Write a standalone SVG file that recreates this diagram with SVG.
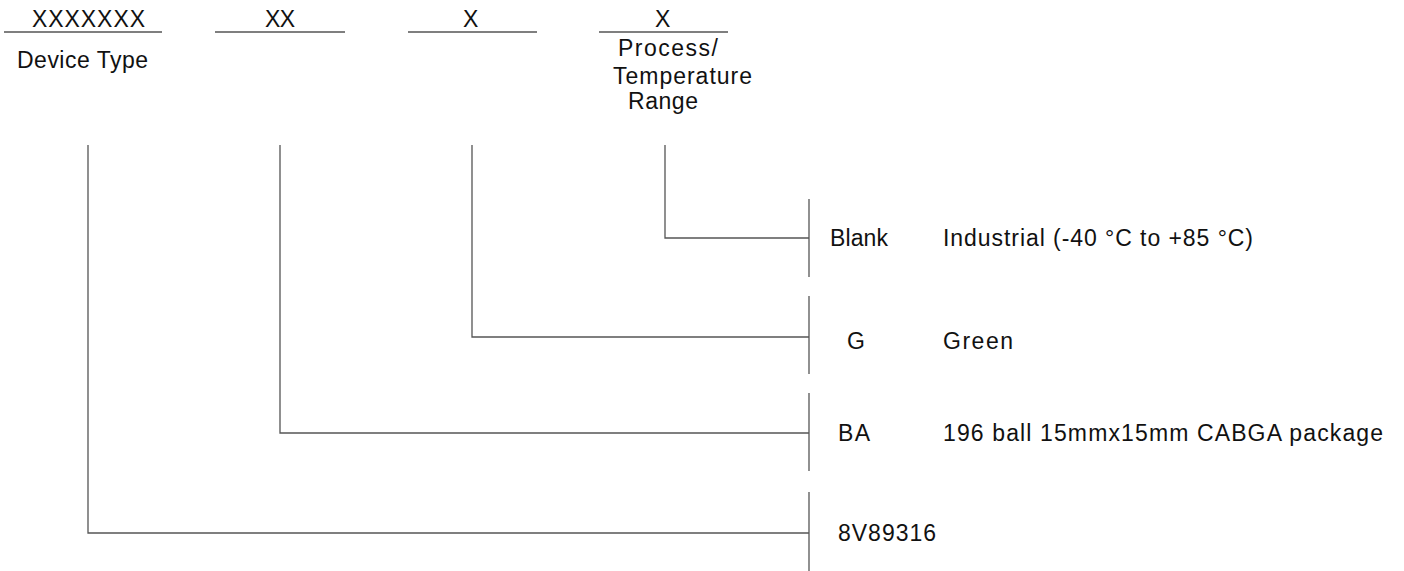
<svg xmlns="http://www.w3.org/2000/svg" width="1404" height="571" viewBox="0 0 1404 571">
<style>
text{font-family:"Liberation Sans",Arial,sans-serif;font-size:23px;fill:#111}
.ln{stroke:#555;stroke-width:1.3;fill:none}
</style>
<rect width="1404" height="571" fill="#fff"/>
<g id="field-device">
<text x="32" y="27" textLength="113">XXXXXXX</text>
<line class="ln" x1="4" y1="32" x2="162" y2="32"/>
<text x="17" y="68" textLength="131">Device Type</text>
</g>
<g id="field-package">
<text x="265" y="27" textLength="30">XX</text>
<line class="ln" x1="215" y1="32" x2="345" y2="32"/>
</g>
<g id="field-green">
<text x="463" y="27">X</text>
<line class="ln" x1="408" y1="32" x2="537" y2="32"/>
</g>
<g id="field-temp">
<text x="655" y="27">X</text>
<line class="ln" x1="599" y1="32" x2="728" y2="32"/>
<text x="618" y="56" textLength="100">Process/</text>
<text x="613" y="84" textLength="139">Temperature</text>
<text x="628" y="109" textLength="70">Range</text>
</g>
<g id="opt-blank">
<line class="ln" x1="809" y1="199" x2="809" y2="277"/>
<text x="830" y="246" textLength="58">Blank</text>
<text x="943" y="246" textLength="310">Industrial (-40 °C to +85 °C)</text>
</g>
<g id="opt-g">
<line class="ln" x1="809" y1="296" x2="809" y2="374"/>
<text x="847" y="349">G</text>
<text x="943" y="349" textLength="70">Green</text>
</g>
<g id="opt-ba">
<line class="ln" x1="809" y1="393" x2="809" y2="471"/>
<text x="838" y="441" textLength="32">BA</text>
<text x="943" y="441" textLength="440">196 ball 15mmx15mm CABGA package</text>
</g>
<g id="opt-device">
<line class="ln" x1="809" y1="492" x2="809" y2="571"/>
<text x="838" y="541" textLength="98">8V89316</text>
</g>
<g id="connectors">
<polyline class="ln" points="665,145 665,238 809,238"/>
<polyline class="ln" points="472,145 472,337 809,337"/>
<polyline class="ln" points="280,145 280,433 809,433"/>
<polyline class="ln" points="88,145 88,533 809,533"/>
</g>
</svg>
